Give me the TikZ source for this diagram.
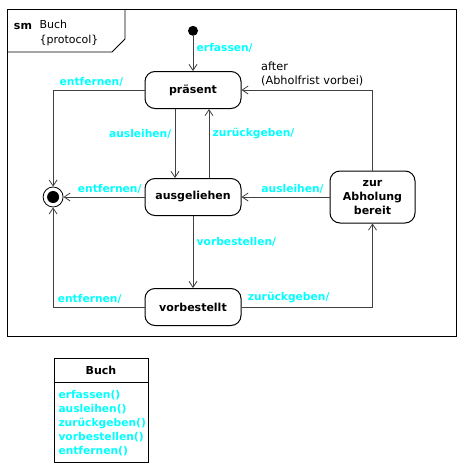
\documentclass[tikz,border=0pt]{standalone}
\usepackage{fontspec}
\setsansfont{DejaVu Sans}
\usetikzlibrary{arrows.meta,shapes,positioning}
\definecolor{umlcyan}{RGB}{0,255,255}
\tikzset{
  basic/.style   = {font=\sffamily\fontsize{11.3}{14}\selectfont},
  state/.style   = {basic, draw, rounded corners=10pt, line width=1pt, align=center,
                    minimum width=96pt, minimum height=37pt,
                    font=\sffamily\bfseries\fontsize{11}{14}\selectfont},
  initial/.style = {circle, fill, inner sep=0pt, minimum size=10pt},
  final/.style   = {circle, draw, line width=0.8pt, minimum size=20pt, inner sep=0pt,
                    path picture={\fill (path picture bounding box.center) circle (6pt);}},
  lbl/.style     = {font=\sffamily\bfseries\fontsize{10.7}{14}\selectfont, text=umlcyan},
  trans/.style   = {->, draw=black!75, line width=0.8pt},
  classhead/.style = {draw, line width=0.8pt, minimum width=94pt, minimum height=24pt,
                    font=\sffamily\bfseries\fontsize{11}{14}\selectfont},
  classbody/.style = {lbl, draw=black, line width=0.8pt, align=left, text width=85pt,
                    inner xsep=4.5pt, minimum height=80pt}
}
\begin{document}
\begin{tikzpicture}[x=1pt, y=-1pt, >={Straight Barb[length=6pt,width=8pt]}]
\useasboundingbox (0,0) rectangle (465,469);

% Rahmen mit Reiter
\draw[line width=0.8pt] (7,9) rectangle (456,336);
\draw[line width=0.8pt] (7,52) -- (112,52) -- (125,39) -- (125,9);
\node[basic, font=\sffamily\bfseries\fontsize{11}{14}\selectfont] (sm) at (23,26) {sm};
\node[basic, anchor=north west, align=left, font=\sffamily\fontsize{11}{15}\selectfont] (titel) at (36,17) {Buch\\\{protocol\}};

% Zustaende
\node[state] (praesent) at (193,90) {präsent};
\node[state, below=69pt of praesent] (ausgeliehen) {ausgeliehen};
\node[state, below=72pt of ausgeliehen] (vorbestellt) {vorbestellt};
\node[state, right=88pt of ausgeliehen, minimum width=85pt, minimum height=52pt] (abholung) {zur\\Abholung\\bereit};
\node[initial, above=35pt of praesent] (start) {};
\node[final, left=81pt of ausgeliehen] (ende) {};

% Transitionen
\draw[trans] (start) -- node[lbl, right, pos=0.34] (t1) {erfassen/} (praesent);
\draw[trans] (praesent.west) -| node[lbl, above, pos=0.29] (t2) {entfernen/} (ende.north);
\draw[trans] ([xshift=-18pt]praesent.south) -- node[lbl, left, pos=0.36] (t3) {ausleihen/} ([xshift=-18pt]ausgeliehen.north);
\draw[trans] ([xshift=16pt]ausgeliehen.north) -- node[lbl, right, pos=0.64] (t4) {zurückgeben/} ([xshift=16pt]praesent.south);
\draw[trans] (ausgeliehen) -- node[lbl, above, pos=0.43] (t5) {entfernen/} (ende);
\draw[trans] (ausgeliehen) -- node[lbl, right, pos=0.36] (t6) {vorbestellen/} (vorbestellt);
\draw[trans] (vorbestellt.west) -| node[lbl, above, pos=0.3] (t7) {entfernen/} (ende.south);
\draw[trans] (vorbestellt.east) -| node[lbl, above, pos=0.18] (t8) {zurückgeben/} (abholung.south);
\draw[trans] (abholung) -- node[lbl, above, pos=0.42] (t9) {ausleihen/} (ausgeliehen);
\draw[trans] (abholung.north) |- node[basic, above, pos=0.73, align=left] (t10) {after\\(Abholfrist vorbei)} (praesent.east);

% Klasse
\node[classhead] (klasse) at (101,370) {Buch};
\node[classbody, below=0pt of klasse] (methoden) {erfassen()\\ausleihen()\\zurückgeben()\\vorbestellen()\\entfernen()};
\end{tikzpicture}
\end{document}
